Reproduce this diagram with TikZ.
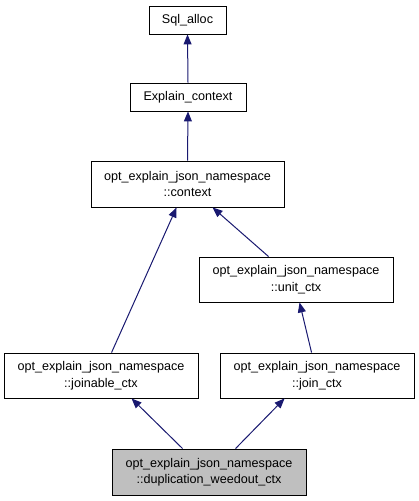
\documentclass[tikz,border=0pt]{standalone}
\usepackage{fontspec}
\setmainfont{Liberation Sans}
\usetikzlibrary{arrows.meta}
\definecolor{edgeblue}{HTML}{191970}
\definecolor{boxgray}{HTML}{BFBFBF}
\begin{document}
\begin{tikzpicture}[x=1pt,y=-1pt,
  cls/.style={draw=black,line width=0.9pt,fill=white,inner sep=0pt,align=center,
    font=\fontsize{12.6}{16.5}\selectfont},
  inh/.style={draw=edgeblue,line width=1pt,-{Triangle[length=10pt,width=8pt]},
    shorten >=0pt},
]
\useasboundingbox (0,0) rectangle (419,501);
\node[cls,minimum width=77pt,minimum height=28pt] (sql) at (187.5,20) {Sql\_alloc};
\node[cls,minimum width=116pt,minimum height=28pt] (expl) at (188,97) {Explain\_context};
\node[cls,minimum width=193pt,minimum height=46pt] (ctx) at (187.5,184) {opt\_explain\_json\_namespace\\::context};
\node[cls,minimum width=194pt,minimum height=45pt] (unit) at (296,279.5) {opt\_explain\_json\_namespace\\::unit\_ctx};
\node[cls,minimum width=194pt,minimum height=45pt] (joinable) at (101,375.5) {opt\_explain\_json\_namespace\\::joinable\_ctx};
\node[cls,minimum width=194pt,minimum height=45pt] (join) at (317,375.5) {opt\_explain\_json\_namespace\\::join\_ctx};
\node[cls,fill=boxgray,minimum width=194pt,minimum height=46pt] (dup) at (209,472) {opt\_explain\_json\_namespace\\::duplication\_weedout\_ctx};

\draw[inh] (expl.north) -- (sql.south);
\draw[inh] (ctx.north) -- (expl.south);
\draw[inh] ([xshift=108pt]joinable.north west) -- ([xshift=86pt]ctx.south west);
\draw[inh] ([xshift=70pt]unit.north west) -- ([xshift=122pt]ctx.south west);
\draw[inh] ([xshift=92pt]join.north west) -- ([xshift=101pt]unit.south west);
\draw[inh] ([xshift=71pt]dup.north west) -- ([xshift=128pt]joinable.south west);
\draw[inh] ([xshift=124pt]dup.north west) -- ([xshift=65pt]join.south west);
\end{tikzpicture}
\end{document}
